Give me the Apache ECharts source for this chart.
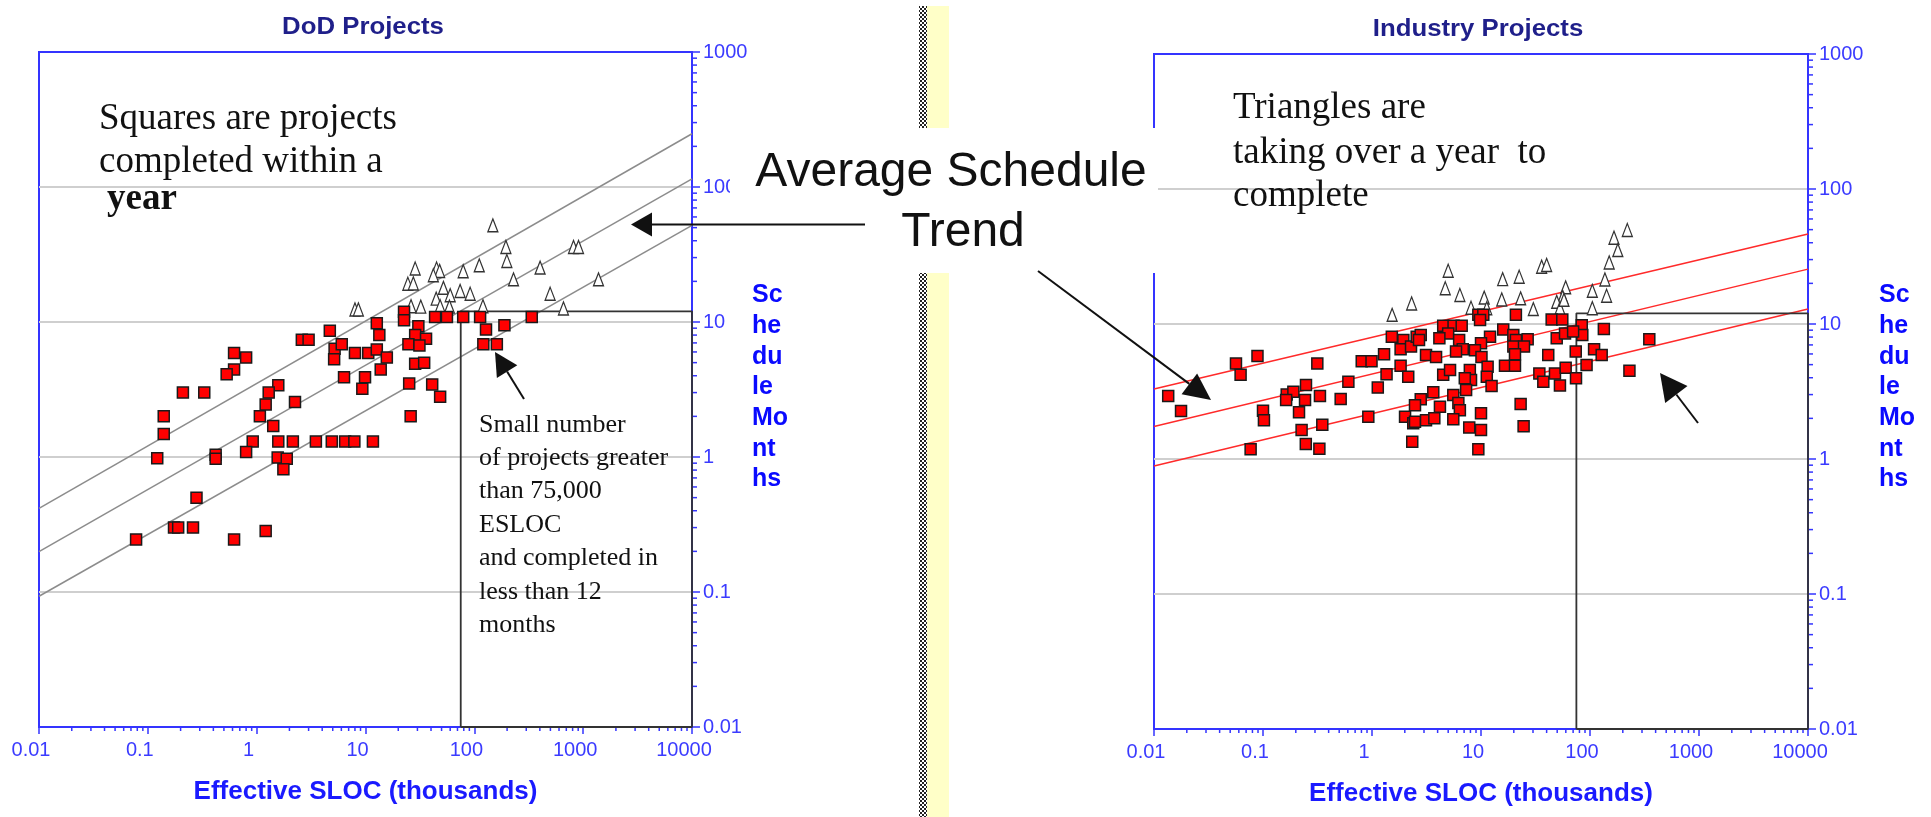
<!DOCTYPE html>
<html>
<head>
<meta charset="utf-8">
<title>Average Schedule Trend</title>
<script src="https://cdn.jsdelivr.net/npm/echarts@6.0.0/dist/echarts.min.js"></script>
<style>
  html, body { margin: 0; padding: 0; background: #fff; }
  #main { width: 1931px; height: 817px; }
</style>
</head>
<body>
<div id="main"></div>
<script>
// ---- data (x = ESLOC thousands, y = schedule months) ----
const xTicks = [0.01, 0.1, 1, 10, 100, 1000, 10000]
const yTicks = [0.01, 0.1, 1, 10, 100, 1000]

const dodSquares = [
  [12.7, 9.8], [13.4, 8.0], [4.7, 8.6], [2.6, 7.4], [3.0, 7.4], [5.2, 6.35], [6.05, 6.85], [5.15, 5.3],
  [8.0, 5.9], [10.6, 5.9], [12.7, 6.25], [15.7, 5.45], [13.8, 4.45], [6.35, 3.9], [9.9, 3.9], [9.35, 3.2],
  [0.62, 5.9], [0.8, 5.45], [0.62, 4.45], [0.53, 4.1], [0.21, 3.0], [0.33, 3.0], [1.58, 3.4], [1.29, 3.0],
  [1.21, 2.45], [2.25, 2.55], [0.14, 2.0], [0.14, 1.48], [1.07, 2.0], [1.42, 1.7], [0.92, 1.3], [0.8, 1.09],
  [1.58, 1.3], [2.15, 1.3], [3.5, 1.3], [4.9, 1.3], [6.5, 1.3], [7.9, 1.3], [11.7, 1.3], [0.122, 0.98],
  [0.42, 1.04], [0.42, 0.97], [1.56, 0.99], [1.89, 0.97], [1.76, 0.81], [0.28, 0.5], [0.078, 0.245],
  [0.174, 0.3], [0.19, 0.3], [0.26, 0.3], [0.62, 0.245], [1.21, 0.283],
  [22.6, 11.9], [22.6, 10.3], [30.6, 9.3], [28.6, 8.0], [36, 7.5], [24.8, 6.85], [31.3, 6.7], [28.6, 4.9],
  [34.6, 5.0], [25.2, 3.5], [41, 3.45], [48.5, 2.8], [26, 2.0], [43.6, 10.9], [56, 10.9], [79, 10.9],
  [113, 10.9], [337, 10.9], [128, 8.8], [189, 9.45], [121, 6.85], [161, 6.85]
]
const dodTriangles = [
  [8.0, 12.4], [8.6, 12.4], [148, 52], [195, 36], [199, 28.3], [815, 36], [906, 36], [111, 26.3],
  [79, 23.8], [402, 25.3], [28.6, 24.9], [45, 24.9], [48, 23.9], [42, 22.2], [24.5, 19.2], [27.5, 19.3],
  [229, 20.7], [1383, 20.7], [52, 17.9], [60, 15.8], [74, 17], [91.5, 16.2], [44.6, 14.9], [497, 16.2],
  [26.2, 13.1], [32.2, 13.0], [48.5, 13.1], [59, 13.0], [120, 13.1], [659, 12.6]
]
const dodTrendHigh = [[0.01, 0.417], [10000, 248]]
const dodTrendMid = [[0.01, 0.199], [10000, 115]]
const dodTrendLow = [[0.01, 0.093], [10000, 52]]

const indSquares = [
  [0.0135, 2.93], [0.0177, 2.27], [0.0565, 5.1], [0.0623, 4.2], [0.089, 5.8], [0.1, 2.28], [0.102, 1.94],
  [0.077, 1.18], [0.165, 3.0], [0.19, 3.15], [0.163, 2.74], [0.243, 2.74], [0.248, 3.53], [0.214, 2.22],
  [0.333, 2.93], [0.315, 5.1], [0.226, 1.64], [0.247, 1.29], [0.329, 1.19], [0.35, 1.79], [0.516, 2.78],
  [0.607, 3.74], [0.805, 5.3], [0.99, 5.3], [1.29, 5.97], [1.52, 8.05], [0.925, 2.06], [1.13, 3.38],
  [1.36, 4.24], [1.83, 4.9], [2.15, 4.07], [1.94, 7.6], [1.83, 6.5], [2.28, 6.8], [2.57, 8.05],
  [2.01, 2.06], [2.39, 1.84], [2.34, 1.34],
  [9.45, 11.7], [10.5, 11.7], [9.8, 10.7], [20.9, 11.7], [44.5, 10.8], [55.7, 10.8], [134, 9.2],
  [350, 7.7], [84, 9.8], [85, 8.3], [4.5, 9.7], [5.6, 9.7], [6.65, 9.7], [5.0, 8.5], [4.15, 7.85],
  [6.3, 7.6], [2.8, 8.3], [2.7, 7.6], [16, 9.1], [12.1, 8.05], [19.8, 8.3], [20.9, 7.6], [26.8, 7.7],
  [10, 7.2], [8.8, 6.4], [10.1, 5.7], [6.8, 6.5], [5.9, 6.25], [19.8, 6.8], [24.8, 6.8], [20.5, 5.97],
  [49.5, 7.85], [59, 8.5], [70, 8.8], [41.4, 5.9], [74, 6.25], [109, 6.5], [128, 5.9], [3.13, 5.9],
  [3.87, 5.7], [4.5, 4.2], [5.2, 4.56], [7.9, 4.56], [8.1, 3.85], [11.5, 4.83], [11.3, 4.07], [16.6, 4.9],
  [20.5, 4.9], [12.5, 3.47], [34.3, 4.3], [37.3, 3.74], [47.7, 4.3], [53, 3.5], [59.8, 4.75], [74.4, 3.96],
  [93, 4.97], [230, 4.5], [7.1, 3.96], [7.3, 3.24], [3.65, 3.12], [5.57, 2.98], [2.8, 2.77], [2.48, 2.5],
  [4.2, 2.44], [6.2, 2.6], [6.4, 2.3], [2.48, 1.89], [3.13, 1.94], [3.73, 2.0], [5.57, 1.97], [10, 2.18],
  [7.8, 1.71], [10, 1.64], [23.1, 2.56], [24.6, 1.75], [9.45, 1.18]
]
const indTriangles = [
  [1.53, 11.7], [2.31, 14.2], [220, 49.7], [166, 43.6], [180, 35.3], [150, 28.6], [137, 21.4], [142, 16.2],
  [105, 17.6], [105, 13.1], [36, 26.6], [40, 27.4], [5.0, 24.8], [4.7, 18.4], [6.4, 16.4], [15.8, 21.5],
  [22.4, 22.4], [8.1, 13.2], [10.7, 15.7], [11.3, 13.1], [15.5, 15.2], [23.1, 15.5], [30.2, 12.9],
  [59.8, 18.7], [56.2, 15.9], [49.5, 14.6], [53, 13.1], [57.7, 15.1]
]
const indTrendHigh = [[0.01, 3.3], [10000, 46.4]]
const indTrendMid = [[0.01, 1.74], [10000, 25.5]]
const indTrendLow = [[0.01, 0.887], [10000, 12.9]]

// box: projects > 75,000 ESLOC and under 12 months
const bigBox = [[75, 0.01], [75, 12], [10000, 12], [10000, 0.01], [75, 0.01]]

// ---- styling ----
const axisBlue = '#3434ff'
const labelBlue = '#3b3bff'
const sans = '"Liberation Sans", Arial, sans-serif'
const serif = '"Liberation Serif", "Times New Roman", serif'

function minorValues(lo, hi) {
  const out = []
  for (let e = Math.round(Math.log10(lo)); e < Math.round(Math.log10(hi)); e++) {
    for (let m = 2; m <= 9; m++) out.push(m * Math.pow(10, e))
  }
  return out
}
const fmt = v => String(+Number(v).toPrecision(6))

function xAxisFor(i) {
  return {
    type: 'log', logBase: 10, gridIndex: i,
    min: xTicks[0], max: xTicks[xTicks.length - 1], splitNumber: 6,
    name: 'Effective SLOC (thousands)', nameLocation: 'middle', nameGap: 52,
    nameTextStyle: { color: '#1a1aff', fontSize: 26, fontWeight: 'bold', fontFamily: sans },
    axisLine: { show: true, lineStyle: { color: axisBlue, width: 2 } },
    axisTick: { show: true, inside: false, length: 7, lineStyle: { color: axisBlue, width: 1.5 } },
    // labels in the original sit a little left of their ticks
    axisLabel: { color: labelBlue, fontSize: 20, fontFamily: sans, margin: 13, padding: [0, 16, 0, 0], formatter: fmt },
    splitLine: { show: false }
  }
}
function yAxisFor(i) {
  return {
    type: 'log', logBase: 10, gridIndex: i, position: 'right',
    min: yTicks[0], max: yTicks[yTicks.length - 1], splitNumber: 5,
    axisLine: { show: true, lineStyle: { color: axisBlue, width: 2 } },
    axisTick: { show: true, inside: false, length: 8, lineStyle: { color: axisBlue, width: 1.5 } },
    axisLabel: { color: labelBlue, fontSize: 20, fontFamily: sans, margin: 11, formatter: fmt },
    splitLine: { show: true, showMinLine: false, showMaxLine: false, lineStyle: { color: '#cfcfcf', width: 2 } }
  }
}

function xMinorTick(params, api) {
  const p = api.coord([api.value(0), api.value(1)])
  return { type: 'line', shape: { x1: p[0], y1: p[1], x2: p[0], y2: p[1] + 4 }, style: { stroke: axisBlue, lineWidth: 1.5 } }
}
function yMinorTick(params, api) {
  const p = api.coord([api.value(0), api.value(1)])
  return { type: 'line', shape: { x1: p[0], y1: p[1], x2: p[0] + 5, y2: p[1] }, style: { stroke: axisBlue, lineWidth: 1.5 } }
}

function seriesFor(i, squares, triangles, trends, trendColor) {
  const list = []
  trends.forEach(t => {
    list.push({
      type: 'line', xAxisIndex: i, yAxisIndex: i, data: t, symbol: 'none', silent: true,
      lineStyle: { color: trendColor, width: 1.5 }, z: 3
    })
  })
  list.push({
    type: 'line', xAxisIndex: i, yAxisIndex: i, data: bigBox, symbol: 'none', silent: true,
    lineStyle: { color: '#333', width: 1.8 }, z: 3
  })
  list.push({
    type: 'scatter', xAxisIndex: i, yAxisIndex: i, data: triangles, symbol: 'triangle', symbolSize: [10, 13],
    itemStyle: { color: '#fff', borderColor: '#333', borderWidth: 1.3, opacity: 1 }, z: 4
  })
  list.push({
    type: 'scatter', xAxisIndex: i, yAxisIndex: i, data: squares, symbol: 'rect', symbolSize: 11,
    itemStyle: { color: '#ff0000', borderColor: '#1a1a1a', borderWidth: 1.5, opacity: 1 }, z: 5
  })
  list.push({
    type: 'custom', xAxisIndex: i, yAxisIndex: i, silent: true, renderItem: xMinorTick,
    data: minorValues(xTicks[0], xTicks[xTicks.length - 1]).map(v => [v, yTicks[0]])
  })
  list.push({
    type: 'custom', xAxisIndex: i, yAxisIndex: i, silent: true, renderItem: yMinorTick,
    data: minorValues(yTicks[0], yTicks[yTicks.length - 1]).map(v => [xTicks[xTicks.length - 1], v])
  })
  return list
}

// ---- annotation helpers ----
function arrow(x1, y1, x2, y2, headLen, headW) {
  const len = Math.hypot(x2 - x1, y2 - y1)
  const ux = (x2 - x1) / len, uy = (y2 - y1) / len
  const bx = x2 - ux * headLen, by = y2 - uy * headLen
  return [
    { type: 'line', z: 60, shape: { x1: x1, y1: y1, x2: bx, y2: by }, style: { stroke: '#111', lineWidth: 2 } },
    { type: 'polygon', z: 60, shape: { points: [[x2, y2], [bx - uy * headW, by + ux * headW], [bx + uy * headW, by - ux * headW]] }, style: { fill: '#111' } }
  ]
}
function label(x, y, text, font, opts) {
  return Object.assign({
    type: 'text', x: x, y: y, z: 50,
    style: Object.assign({ text: text, font: font, fill: '#111', align: 'left', verticalAlign: 'middle' }, (opts && opts.style) || {})
  }, (opts && opts.el) || {})
}

// checkerboard for the slide divider
const checker = document.createElement('canvas')
checker.width = 4; checker.height = 4
const cctx = checker.getContext('2d')
cctx.fillStyle = '#fff'; cctx.fillRect(0, 0, 4, 4)
cctx.fillStyle = '#222'; cctx.fillRect(0, 0, 2, 2); cctx.fillRect(2, 2, 2, 2)

const graphics = [
  // divider strip
  { type: 'rect', z: 40, shape: { x: 919, y: 6, width: 8, height: 811 }, style: { fill: { image: checker, repeat: 'repeat' } } },
  { type: 'rect', z: 40, shape: { x: 927, y: 6, width: 22, height: 811 }, style: { fill: '#ffffc8' } },
  // text box behind the big caption
  { type: 'rect', z: 45, shape: { x: 730, y: 128, width: 428, height: 145 }, style: { fill: '#fff' } },
  label(951, 173, 'Average Schedule', '48px ' + sans, { style: { align: 'center' } }),
  label(963, 233, 'Trend', '48px ' + sans, { style: { align: 'center' } }),
  // titles
  label(363, 28, 'DoD Projects', 'bold 23px ' + sans, { style: { align: 'center', fill: '#1f1f8a' }, el: { scaleX: 1.12 } }),
  label(1478, 30, 'Industry Projects', 'bold 23px ' + sans, { style: { align: 'center', fill: '#1f1f8a' }, el: { scaleX: 1.12 } }),
  // vertical-ish y axis names
  label(752, 280, 'Sc\nhe\ndu\nle\nMo\nnt\nhs', 'bold 25px ' + sans, { style: { fill: '#0a0aff', verticalAlign: 'top', lineHeight: 30.7 } }),
  label(1879, 280, 'Sc\nhe\ndu\nle\nMo\nnt\nhs', 'bold 25px ' + sans, { style: { fill: '#0a0aff', verticalAlign: 'top', lineHeight: 30.7 } }),
  // left notes
  label(99, 119, 'Squares are projects', '37px ' + serif),
  label(99, 162, 'completed within a', '37px ' + serif),
  label(107, 199, 'year', 'bold 37px ' + serif),
  label(479, 408, 'Small number\nof projects greater\nthan 75,000\nESLOC\nand completed in\nless than 12\nmonths', '26px ' + serif,
    { style: { verticalAlign: 'top', lineHeight: 33.4 } }),
  // right notes
  label(1233, 108, 'Triangles are', '37px ' + serif),
  label(1233, 153, 'taking over a year  to', '37px ' + serif),
  label(1233, 196, 'complete', '37px ' + serif)
]
  .concat(arrow(865, 224.5, 631, 224.5, 21, 12))
  .concat(arrow(1038, 271, 1211, 400, 27, 13))
  .concat(arrow(1698, 423, 1660, 373, 27, 14))
  .concat(arrow(524, 399, 495, 352, 23, 12))

const chart = echarts.init(document.getElementById('main'), null, { renderer: 'canvas' })
const option = {
  backgroundColor: '#fff',
  animation: false,
  grid: [
    { left: 39, top: 52, width: 653, height: 675, show: true, borderColor: axisBlue, borderWidth: 2, containLabel: false, outerBoundsMode: 'none' },
    { left: 1154, top: 54, width: 654, height: 675, show: true, borderColor: axisBlue, borderWidth: 2, containLabel: false, outerBoundsMode: 'none' }
  ],
  xAxis: [xAxisFor(0), xAxisFor(1)],
  yAxis: [yAxisFor(0), yAxisFor(1)],
  series: seriesFor(0, dodSquares, dodTriangles, [dodTrendHigh, dodTrendMid, dodTrendLow], '#8c8c8c')
    .concat(seriesFor(1, indSquares, indTriangles, [indTrendHigh, indTrendMid, indTrendLow], '#ff2a2a')),
  graphic: graphics
}
chart.setOption(option)

window.addEventListener('resize', () => {
  chart.resize()
})
</script>
</body>
</html>
